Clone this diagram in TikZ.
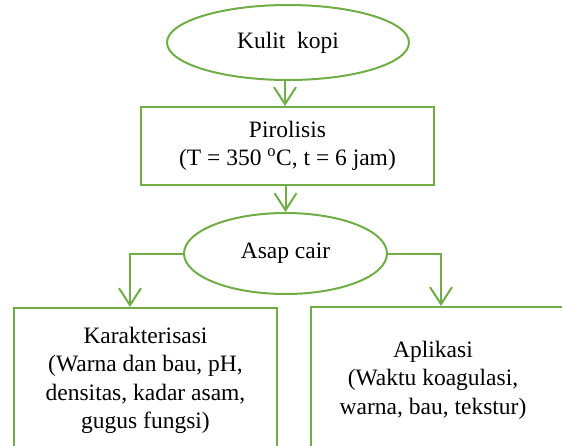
\documentclass[tikz,border=0pt]{standalone}
\usepackage{fontspec}
\setmainfont{Liberation Serif}
\usetikzlibrary{shapes.geometric,arrows.meta}
\definecolor{flowgreen}{RGB}{112,173,71}
\begin{document}
\begin{tikzpicture}[x=1pt,y=-1pt,
  every node/.style={font=\fontsize{23.5}{28.5}\selectfont, inner sep=0pt, align=center},
  oval/.style={ellipse, draw=flowgreen, line width=2pt, fill=white},
  box/.style={rectangle, draw=flowgreen, line width=2pt, fill=white},
  conn/.style={draw=flowgreen, line width=2pt, -{Straight Barb[length=17pt,width=22pt,line width=2pt]}}]
\useasboundingbox (0,0) rectangle (562,445);
\clip (0,0) rectangle (562,445);
\node[oval, minimum width=242pt, minimum height=75pt] (kulit) at (288,42.5) {\raisebox{-4pt}{Kulit\ \ kopi}};
\node[box, minimum width=293pt, minimum height=78pt] (piro) at (287.5,146) {Pirolisis\\(T = 350 \textsuperscript{o}C, t = 6 jam)};
\node[oval, minimum width=203pt, minimum height=81pt] (asap) at (285.5,253.5) {Asap cair};
\node[box, minimum width=263pt, minimum height=162pt] (karbox) at (145.5,389) {};
\node (kar) at (145.5,380.5) {Karakterisasi\\(Warna dan bau, pH,\\densitas, kadar asam,\\gugus fungsi)};
\node[box, minimum width=269pt, minimum height=163pt] (aplbox) at (445.5,388.5) {};
\node (apl) at (433,380) {Aplikasi\\(Waktu koagulasi,\\warna, bau, tekstur)};
\draw[conn] ([xshift=-3pt]kulit.south) -- ([xshift=-3pt]kulit.south |- piro.north);
\draw[conn] (asap.north |- piro.south) -- (asap.north);
\draw[conn] (asap.west) -| ([xshift=-15.5pt]karbox.north);
\draw[conn] (asap.east) -| ([xshift=-4.5pt]aplbox.north);
\end{tikzpicture}
\end{document}
